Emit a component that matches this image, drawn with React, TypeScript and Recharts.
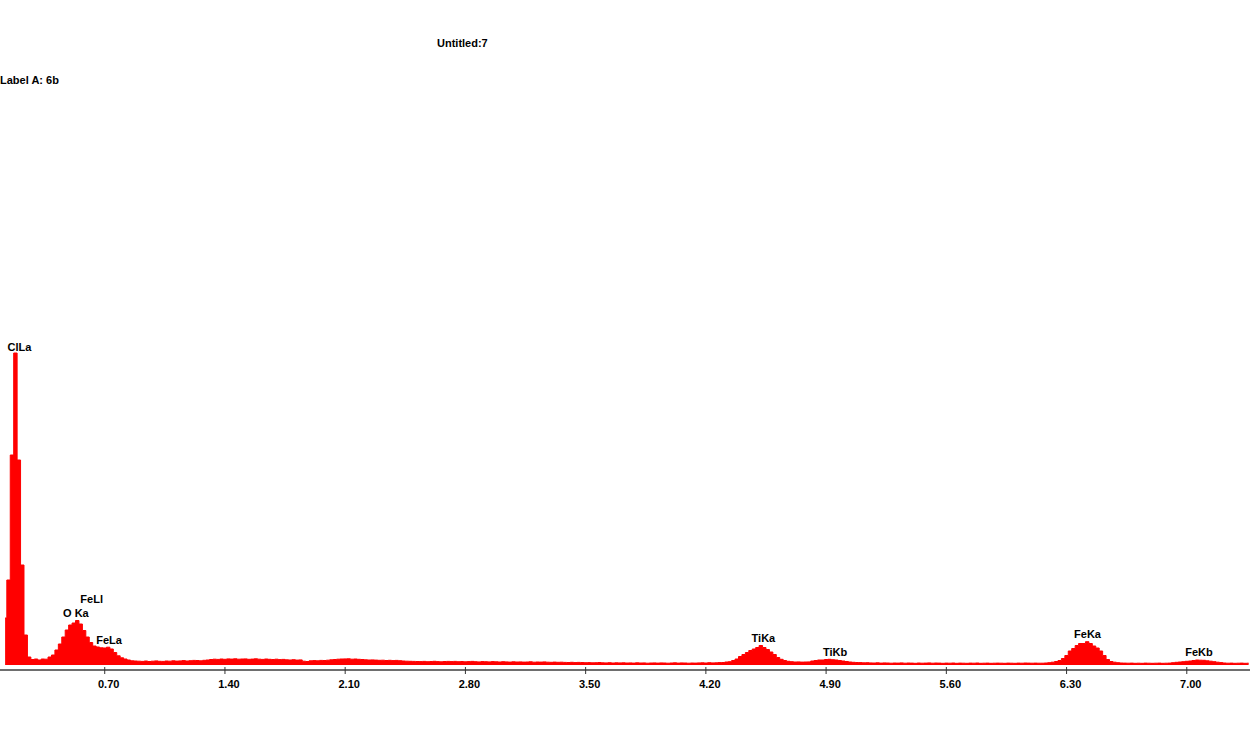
import { AreaChart, Area, XAxis, YAxis, ReferenceDot } from "recharts";

const FONT = '"Liberation Sans", Arial, sans-serif';

// channel width of the spectrum, keV
const CHANNEL_KEV = 0.02;
const FIRST_CHANNEL_KEV = 0.12;

// counts per channel
// 0.12 – 0.90 keV: noise peak, O Ka, Fe L
const countsLow = [
  470, 850, 2100, 3120, 2050, 1000, 300, 80, 55, 60,
  50, 60, 58, 80, 100, 150, 210, 280, 350, 400,
  420, 445, 410, 345, 280, 225, 190, 180, 172, 170,
  178, 160, 125, 92, 72, 60, 50, 42, 40, 38
];
// 0.92 – 4.30 keV: background
const countsBg1 = [
  36, 40, 35, 38, 41, 37, 36, 40, 38, 42,
  39, 41, 44, 40, 43, 46, 45, 42, 47, 50,
  55, 58, 56, 60, 57, 61, 59, 62, 58, 60,
  61, 57, 59, 62, 58, 56, 60, 57, 55, 58,
  54, 56, 52, 50, 53, 49, 51, 38, 35, 42,
  44, 42, 46, 45, 48, 52, 55, 58, 60, 61,
  62, 58, 60, 57, 55, 52, 50, 51, 49, 47,
  48, 45, 47, 44, 46, 43, 40, 38, 37, 36,
  35, 34, 36, 33, 35, 37, 34, 32, 35, 36,
  34, 36, 33, 35, 32, 34, 36, 33, 31, 34,
  33, 31, 34, 32, 30, 33, 31, 29, 32, 30,
  31, 29, 30, 32, 28, 30, 29, 31, 28, 27,
  29, 27, 28, 26, 25, 27, 24, 26, 25, 23,
  24, 22, 23, 25, 22, 21, 23, 20, 22, 21,
  22, 20, 21, 19, 22, 20, 21, 18, 20, 21,
  19, 21, 20, 18, 20, 22, 19, 21, 20, 18,
  20, 19, 21, 22, 20, 23, 21, 22, 24, 25
];
// 4.32 – 5.10 keV: Ti K
const countsTi = [
  30, 33, 45, 60, 85, 105, 125, 145, 160, 175,
  195, 175, 155, 130, 105, 75, 57, 45, 37, 33,
  30, 31, 29, 30, 31, 40, 45, 50, 50, 55,
  57, 53, 50, 45, 40, 35, 30, 27, 25, 24
];
// 5.12 – 6.10 keV: background
const countsBg2 = [
  22, 23, 21, 20, 22, 19, 21, 20, 18, 20,
  19, 21, 18, 20, 19, 17, 20, 18, 19, 21,
  18, 20, 19, 17, 19, 18, 20, 17, 19, 18,
  17, 19, 18, 20, 17, 18, 19, 17, 18, 19,
  18, 17, 19, 18, 17, 19, 18, 20, 19, 18
];
// 6.12 – 7.36 keV: Fe K
const countsFe = [
  19, 18, 18, 20, 23, 28, 35, 45, 65, 95,
  140, 165, 195, 215, 215, 233, 215, 190, 170, 140,
  95, 55, 35, 28, 23, 20, 19, 18, 19, 17,
  18, 17, 19, 18, 17, 18, 19, 17, 18, 19,
  23, 27, 30, 33, 37, 40, 45, 50, 48, 47,
  42, 38, 33, 28, 24, 20, 18, 19, 17, 18,
  19, 17, 18
];

const counts = [...countsLow, ...countsBg1, ...countsTi, ...countsBg2, ...countsFe];

const spectrum = counts.map((c, i) => ({
  kev: Math.round((FIRST_CHANNEL_KEV + i * CHANNEL_KEV) * 1000) / 1000,
  counts: c
}));

const kevTicks = [0.7, 1.4, 2.1, 2.8, 3.5, 4.2, 4.9, 5.6, 6.3, 7.0];

// peak labels
const peakNames = ["ClLa", "FeLl", "O Ka", "FeLa", "TiKa", "TiKb", "FeKa", "FeKb"];
const peakKev = [0.204, 0.624, 0.532, 0.725, 4.535, 4.952, 6.422, 7.071];
const peakLabelCounts = [3145, 617, 477, 210, 233, 90, 267, 90];

function KevTick(props: any) {
  const { x, y, payload } = props;
  return (
    <g>
      <line x1={x} x2={x} y1={y - 3} y2={y + 4} stroke="#333" />
      <text
        x={x + 4}
        y={y + 18}
        textAnchor="middle"
        fontSize={11}
        fontWeight="bold"
        fontFamily={FONT}
        fill="#000"
      >
        {Number(payload.value).toFixed(2)}
      </text>
    </g>
  );
}

export default function App() {
  return (
    <div
      style={{
        position: "absolute",
        left: 0,
        top: 0,
        width: 1250,
        height: 742,
        background: "#fff"
      }}
    >
      <AreaChart
        width={1250}
        height={742}
        data={spectrum}
        margin={{ top: 0, right: 0, bottom: 0, left: 0 }}
      >
        <XAxis
          dataKey="kev"
          type="number"
          domain={[0.0903, 7.368]}
          allowDataOverflow
          ticks={kevTicks}
          height={72}
          tickSize={0}
          tickMargin={0}
          tickLine={false}
          axisLine={{ stroke: "#6e6e6e", strokeWidth: 2 }}
          tick={<KevTick />}
          interval={0}
        />
        <YAxis hide domain={[-50, 6650]} allowDataOverflow type="number" />
        <Area
          type="step"
          dataKey="counts"
          stroke="#ff0000"
          strokeWidth={1}
          fill="#ff0000"
          fillOpacity={1}
          dot={false}
          activeDot={false}
          isAnimationActive={false}
        />
        {peakNames.map((name, i) => (
          <ReferenceDot
            key={name}
            x={peakKev[i]}
            y={peakLabelCounts[i]}
            r={0}
            ifOverflow="visible"
            shape={(p: any) => (
              <text
                x={p.cx}
                y={p.cy}
                textAnchor="middle"
                fontSize={11}
                fontWeight="bold"
                fontFamily={FONT}
                fill="#000"
              >
                {name}
              </text>
            )}
          />
        ))}
      </AreaChart>
      <svg
        width={1250}
        height={742}
        style={{ position: "absolute", left: 0, top: 0, pointerEvents: "none" }}
      >
        <text x={437} y={47} fontSize={11} fontWeight="bold" fontFamily={FONT} fill="#000">
          Untitled:7
        </text>
        <text x={0} y={84} fontSize={11} fontWeight="bold" fontFamily={FONT} fill="#000">
          Label A: 6b
        </text>
      </svg>
    </div>
  );
}
